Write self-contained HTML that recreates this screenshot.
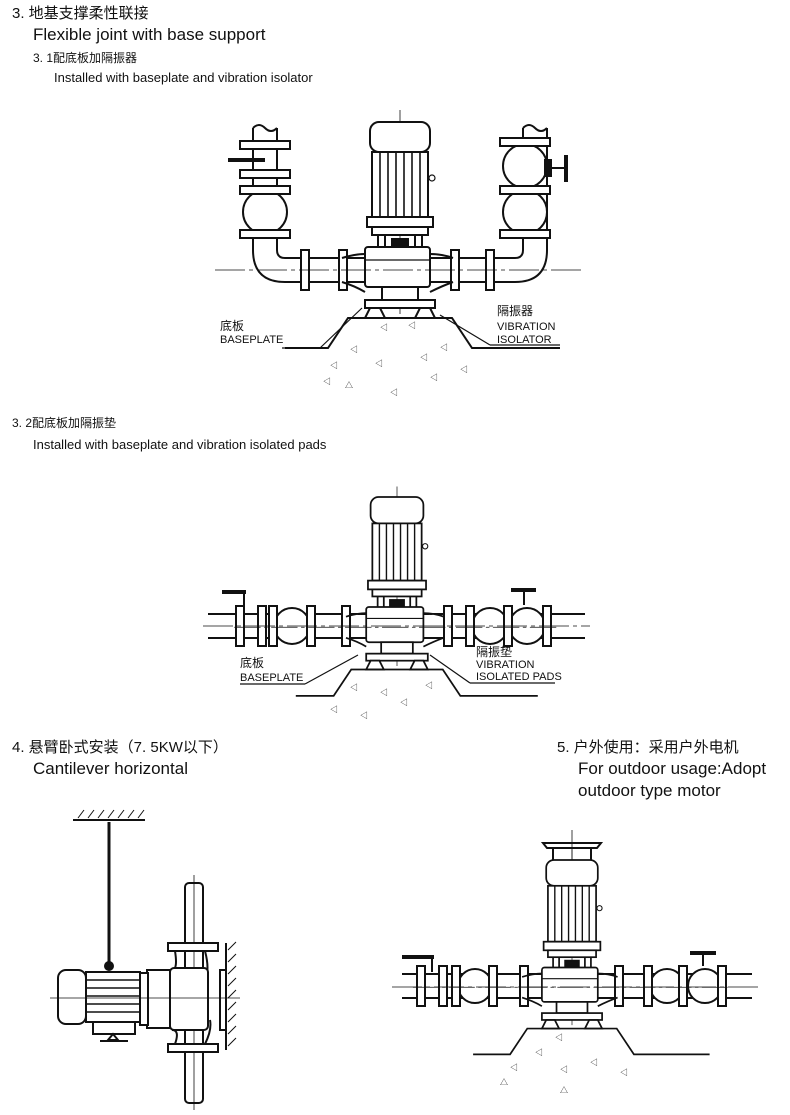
<!DOCTYPE html>
<html><head><meta charset="utf-8"><style>
body{margin:0;background:#fff;}
svg{display:block;}
text{font-family:"Liberation Sans","Noto Sans CJK SC",sans-serif;fill:#111;}
</style></head><body>
<svg width="790" height="1115" viewBox="0 0 790 1115" xmlns="http://www.w3.org/2000/svg">
<defs>
<g id="pump" fill="#fff" stroke="#111" stroke-width="2">
  <line x1="0" y1="-12" x2="0" y2="192" stroke-width="0.8"/>
  <rect x="-30" y="0" width="60" height="30" rx="9"/>
  <rect x="-28" y="30" width="56" height="65"/>
  <g stroke-width="1.6"><line x1="-20" y1="30" x2="-20" y2="95"/><line x1="-12" y1="30" x2="-12" y2="95"/><line x1="-4" y1="30" x2="-4" y2="95"/><line x1="4" y1="30" x2="4" y2="95"/><line x1="12" y1="30" x2="12" y2="95"/><line x1="20" y1="30" x2="20" y2="95"/></g>
  <circle cx="32" cy="56" r="3" stroke-width="1.2"/>
  <rect x="-33" y="95" width="66" height="10"/>
  <rect x="-28" y="105" width="56" height="8"/>
  <line x1="-22" y1="113" x2="-22" y2="125"/><line x1="-15" y1="113" x2="-15" y2="125"/><line x1="15" y1="113" x2="15" y2="125"/><line x1="22" y1="113" x2="22" y2="125"/>
  <rect x="-8" y="117" width="16" height="8" fill="#111"/>
  <path d="M-58 136 Q-45 132 -35 132 M-58 160 Q-45 164 -35 170 M53 136 Q42 132 30 132 M53 160 Q42 164 30 170"/>
  <rect x="-35" y="125" width="65" height="40" rx="3"/>
  <line x1="-35" y1="138" x2="30" y2="138" stroke-width="1.2"/>
  <rect x="-18" y="165" width="36" height="13"/>
  <rect x="-35" y="178" width="70" height="8"/>
  <path d="M-30 186 L-20 186 L-15 196 L-35 196 Z M20 186 L30 186 L35 196 L15 196 Z"/>
  <path d="M-115 226 H-72 L-52 196 H52 L72 226 H160" fill="none"/>
  <line x1="-185" y1="148" x2="185" y2="148" stroke-width="0.8" stroke-dasharray="30 4 4 4"/>
</g>
<g id="fl"><rect x="-4" y="-20" width="8" height="40" fill="#fff" stroke="#111" stroke-width="2"/></g>
<g id="hfl"><rect x="-25" y="-4" width="50" height="8" fill="#fff" stroke="#111" stroke-width="2"/></g>
</defs>

<text x="12" y="18" font-size="15">3. 地基支撑柔性联接</text>
<text x="33" y="40" font-size="17">Flexible joint with base support</text>
<text x="33" y="62" font-size="12">3. 1配底板加隔振器</text>
<text x="54" y="82" font-size="13">Installed with baseplate and vibration isolator</text>
<text x="12" y="427" font-size="12">3. 2配底板加隔振垫</text>
<text x="33" y="449" font-size="13">Installed with baseplate and vibration isolated pads</text>
<text x="12" y="752" font-size="15">4. 悬臂卧式安装（7. 5KW以下）</text>
<text x="33" y="774" font-size="17">Cantilever horizontal</text>
<text x="557" y="752" font-size="15">5. 户外使用：采用户外电机</text>
<text x="578" y="774" font-size="17">For outdoor usage:Adopt</text>
<text x="578" y="796" font-size="17">outdoor type motor</text>

<!-- Diagram 1 -->
<g fill="#fff" stroke="#111" stroke-width="2">
  <line x1="300" y1="258" x2="500" y2="258"/><line x1="300" y1="282" x2="500" y2="282"/>
  <path d="M300 258 H285 Q277 258 277 250 V128 M300 282 H285 Q253 282 253 250 V128" fill="none"/>
  <path d="M500 258 H515 Q523 258 523 250 V128 M500 282 H515 Q547 282 547 250 V128" fill="none"/>
  <path d="M253 128 Q259 122 265 128 Q271 134 277 128 M523 128 Q529 122 535 128 Q541 134 547 128" fill="none"/>
  <rect x="253" y="148" width="24" height="26"/>
  <line x1="228" y1="160" x2="265" y2="160" stroke-width="4"/>
  <circle cx="265" cy="212" r="22"/>
  <circle cx="525" cy="166" r="22"/>
  <circle cx="525" cy="212" r="22"/>
  <line x1="547" y1="168" x2="565" y2="168"/><line x1="566" y1="155" x2="566" y2="182" stroke-width="4"/>
  <rect x="545" y="160" width="6" height="16" fill="#111"/>
</g>
<use href="#hfl" x="265" y="145"/><use href="#hfl" x="265" y="174"/><use href="#hfl" x="265" y="190"/><use href="#hfl" x="265" y="234"/>
<use href="#hfl" x="525" y="142"/><use href="#hfl" x="525" y="190"/><use href="#hfl" x="525" y="234"/>
<use href="#fl" x="305" y="270"/><use href="#fl" x="343" y="270"/><use href="#fl" x="455" y="270"/><use href="#fl" x="490" y="270"/>
<use href="#pump" x="400" y="122"/>
<g stroke="#111" stroke-width="1.2" fill="none"><line x1="282" y1="348" x2="320" y2="348"/><line x1="320" y1="348" x2="362" y2="308"/><line x1="490" y1="345" x2="560" y2="345"/><line x1="490" y1="345" x2="440" y2="315"/></g>
<text x="220" y="330" font-size="12">底板</text><text x="220" y="343" font-size="11">BASEPLATE</text>
<text x="497" y="315" font-size="12">隔振器</text><text x="497" y="330" font-size="11">VIBRATION</text><text x="497" y="343" font-size="11">ISOLATOR</text>
<g font-size="8"><text x="380" y="330">◁</text><text x="350" y="352">◁</text><text x="330" y="368">◁</text><text x="375" y="366">◁</text><text x="420" y="360">◁</text><text x="440" y="350">◁</text><text x="460" y="372">◁</text><text x="323" y="384">◁</text><text x="390" y="395">◁</text><text x="345" y="388">△</text><text x="430" y="380">◁</text><text x="408" y="328">◁</text></g>

<!-- Diagram 2 -->
<g fill="#fff" stroke="#111" stroke-width="2">
  <line x1="208" y1="614" x2="585" y2="614"/><line x1="208" y1="638" x2="585" y2="638"/>
  <circle cx="292" cy="626" r="18"/><circle cx="490" cy="626" r="18"/><circle cx="527" cy="626" r="18"/>
  <line x1="222" y1="592" x2="246" y2="592" stroke-width="4"/><line x1="244" y1="592" x2="244" y2="606"/>
  <line x1="511" y1="590" x2="536" y2="590" stroke-width="4"/><line x1="524" y1="590" x2="524" y2="605"/>
</g>
<use href="#fl" x="240" y="626"/><use href="#fl" x="262" y="626"/><use href="#fl" x="273" y="626"/><use href="#fl" x="311" y="626"/><use href="#fl" x="346" y="626"/><use href="#fl" x="448" y="626"/><use href="#fl" x="470" y="626"/><use href="#fl" x="508" y="626"/><use href="#fl" x="547" y="626"/>
<use href="#pump" transform="translate(397,497) scale(0.88)"/>
<line x1="203" y1="626" x2="590" y2="626" stroke="#111" stroke-width="0.8" stroke-dasharray="30 4 4 4"/>
<g stroke="#111" stroke-width="1.2" fill="none"><line x1="240" y1="684" x2="305" y2="684"/><line x1="305" y1="684" x2="358" y2="655"/><line x1="470" y1="683" x2="555" y2="683"/><line x1="470" y1="683" x2="430" y2="655"/></g>
<text x="240" y="667" font-size="12">底板</text><text x="240" y="681" font-size="11">BASEPLATE</text>
<text x="476" y="656" font-size="12">隔振垫</text><text x="476" y="668" font-size="11">VIBRATION</text><text x="476" y="680" font-size="11">ISOLATED PADS</text>
<g font-size="8"><text x="380" y="695">◁</text><text x="350" y="690">◁</text><text x="330" y="712">◁</text><text x="400" y="705">◁</text><text x="425" y="688">◁</text><text x="360" y="718">◁</text></g>

<!-- Diagram 4 -->
<g fill="#fff" stroke="#111" stroke-width="2">
  <line x1="73" y1="820" x2="145" y2="820"/>
  <g stroke-width="1"><path d="M78 818 l6 -8 M88 818 l6 -8 M98 818 l6 -8 M108 818 l6 -8 M118 818 l6 -8 M128 818 l6 -8 M138 818 l6 -8"/></g>
  <line x1="109" y1="822" x2="109" y2="965" stroke-width="3"/>
  <circle cx="109" cy="966" r="4" fill="#111"/>
  <rect x="185" y="883" width="18" height="220" rx="4"/>
  <line x1="194" y1="875" x2="194" y2="1110" stroke-width="0.8"/>
  <rect x="168" y="943" width="50" height="8"/><rect x="168" y="1044" width="50" height="8"/>
  <path d="M175 951 Q178 970 172 970 M205 951 Q210 970 205 980 M175 1044 Q180 1030 172 1030 M205 1044 Q212 1030 210 1020"/>
  <rect x="170" y="968" width="38" height="62" rx="4"/>
  <rect x="147" y="970" width="23" height="58"/>
  <rect x="140" y="973" width="8" height="52"/>
  <rect x="86" y="972" width="54" height="50"/>
  <g stroke-width="1.6"><line x1="86" y1="980" x2="140" y2="980"/><line x1="86" y1="988" x2="140" y2="988"/><line x1="86" y1="996" x2="140" y2="996"/><line x1="86" y1="1004" x2="140" y2="1004"/><line x1="86" y1="1012" x2="140" y2="1012"/></g>
  <rect x="58" y="970" width="28" height="54" rx="8"/>
  <rect x="93" y="1022" width="42" height="12"/>
  <path d="M113 1034 l-5 6 h10 z"/>
  <line x1="100" y1="1041" x2="128" y2="1041"/>
  <rect x="220" y="970" width="6" height="60"/>
  <line x1="226" y1="943" x2="226" y2="1050"/>
  <g stroke-width="1"><path d="M228 950 l8 -8 M228 962 l8 -8 M228 974 l8 -8 M228 986 l8 -8 M228 998 l8 -8 M228 1010 l8 -8 M228 1022 l8 -8 M228 1034 l8 -8 M228 1046 l8 -8"/></g>
  <line x1="50" y1="998" x2="240" y2="998" stroke-width="0.8"/>
</g>

<!-- Diagram 5 -->
<g fill="#fff" stroke="#111" stroke-width="2">
  <path d="M543 843 H601 L597 848 H547 Z"/>
  <line x1="553" y1="848" x2="553" y2="862"/><line x1="591" y1="848" x2="591" y2="862"/>
  <line x1="572" y1="830" x2="572" y2="860" stroke-width="0.8"/>
  <line x1="402" y1="974" x2="752" y2="974"/><line x1="402" y1="998" x2="752" y2="998"/>
  <circle cx="475" cy="986" r="17"/><circle cx="667" cy="986" r="17"/><circle cx="705" cy="986" r="17"/>
  <line x1="402" y1="957" x2="434" y2="957" stroke-width="4"/><line x1="432" y1="957" x2="432" y2="972"/>
  <line x1="690" y1="953" x2="716" y2="953" stroke-width="4"/><line x1="703" y1="953" x2="703" y2="966"/>
</g>
<use href="#fl" x="421" y="986"/><use href="#fl" x="443" y="986"/><use href="#fl" x="456" y="986"/><use href="#fl" x="493" y="986"/><use href="#fl" x="524" y="986"/><use href="#fl" x="619" y="986"/><use href="#fl" x="648" y="986"/><use href="#fl" x="683" y="986"/><use href="#fl" x="722" y="986"/>
<use href="#pump" transform="translate(572,860) scale(0.86)"/>
<line x1="392" y1="987" x2="760" y2="987" stroke="#111" stroke-width="0.8" stroke-dasharray="30 4 4 4"/>
<g font-size="8"><text x="555" y="1040">◁</text><text x="535" y="1055">◁</text><text x="510" y="1070">◁</text><text x="560" y="1072">◁</text><text x="590" y="1065">◁</text><text x="620" y="1075">◁</text><text x="500" y="1085">△</text><text x="560" y="1093">△</text></g>
</svg>
</body></html>
